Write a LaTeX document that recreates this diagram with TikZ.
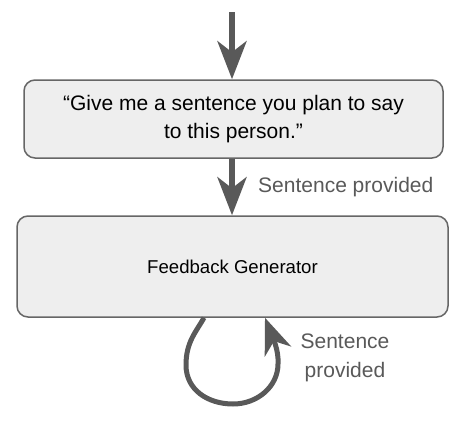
\documentclass[tikz,border=0pt]{standalone}
\usepackage{fontspec}
\setmainfont{Liberation Sans}
\usetikzlibrary{arrows.meta,calc}
\definecolor{edgegray}{HTML}{595959}
\definecolor{boxfill}{HTML}{EEEEEE}
\definecolor{boxline}{HTML}{666666}
\tikzset{
  box/.style={draw=boxline, line width=1.5pt, fill=boxfill, rounded corners=11pt, inner sep=0pt, align=center},
  flow/.style={draw=edgegray, line width=6pt, -{Stealth[length=38pt,width=29pt,inset=11pt]}},
  loopflow/.style={draw=edgegray, line width=5pt, -{Stealth[length=36pt,width=28pt,inset=11pt]}},
  lbl/.style={text=edgegray, font=\fontsize{21}{29}\selectfont, inner sep=0pt}
}
\begin{document}
\begin{tikzpicture}[x=1pt,y=-1pt]
\useasboundingbox (0,0) rectangle (466,426);
\node[box, minimum width=419pt, minimum height=78pt, font=\fontsize{21}{28}\selectfont] (ask) at (233.5,119)
  {“Give me a sentence you plan to say\\to this person.”};
\node[box, minimum width=431pt, minimum height=101pt, font=\fontsize{18.6}{22}\selectfont] (fb) at (232.5,266.5)
  {Feedback Generator};
\coordinate (start) at (232,12);
\draw[flow] (start) -- (start |- ask.north);
\draw[flow] (ask.south -| 232,0) -- (fb.north -| 232,0);
\node[lbl, anchor=west] (l1) at (258,187) {Sentence provided};
\coordinate (loopa) at ($(fb.south)+(-28.5,0)$);
\coordinate (loopb) at ($(fb.south)+(32.5,0)$);
\draw[loopflow] (loopa) .. controls (196,332) and (186,342) .. (186,365)
  .. controls (186,390) and (208,404) .. (233,404)
  .. controls (258,404) and (278,386) .. (278,364)
  .. controls (279,350) and (272,336) .. (loopb);
\node[lbl, align=center] (l2) at (345,357.5) {Sentence\\provided};
\end{tikzpicture}
\end{document}
